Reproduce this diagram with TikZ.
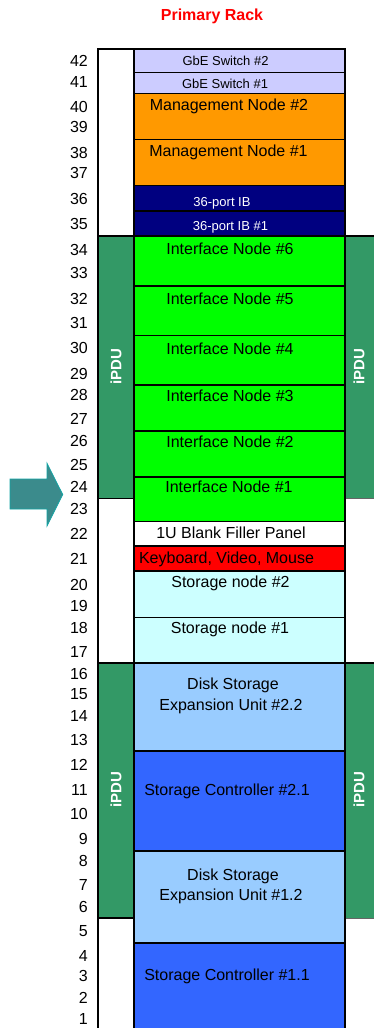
\documentclass[tikz,border=0pt]{standalone}
\usepackage{fontspec}
\setmainfont{Liberation Sans}
\definecolor{gbe}{HTML}{CCCCFF}
\definecolor{mgmt}{HTML}{FF9900}
\definecolor{ib}{HTML}{000080}
\definecolor{iface}{HTML}{00FF00}
\definecolor{kvm}{HTML}{FF0000}
\definecolor{stnode}{HTML}{CCFFFF}
\definecolor{dse}{HTML}{99CCFF}
\definecolor{ctrl}{HTML}{3366FF}
\definecolor{pdugreen}{HTML}{339966}
\definecolor{arrowfill}{HTML}{3B8B8C}
\definecolor{arrowedge}{HTML}{12A3A4}
\begin{document}
\begin{tikzpicture}[x=1pt,y=-1pt,
  bay/.style={rectangle, draw=black, line width=1.6pt, minimum width=211pt,
    inner sep=0pt, outer sep=0pt},
  lbl/.style={font=\fontsize{16}{19}\selectfont, anchor=base, inner sep=0pt},
  lblsmall/.style={font=\fontsize{13}{15}\selectfont, anchor=base, inner sep=0pt},
  unum/.style={font=\fontsize{16}{19}\selectfont, anchor=base east, inner sep=0pt},
  pdu/.style={fill=pdugreen, draw=black, line width=1.6pt},
  pdutext/.style={font=\bfseries\fontsize{15}{18}\selectfont, text=white,
    rotate=90, inner sep=0pt},
  titletext/.style={font=\bfseries\fontsize{16}{19}\selectfont, text=red,
    anchor=base, inner sep=0pt}]
\useasboundingbox (0,0) rectangle (373,1028);

% title
\node[titletext] (title) at (212,20) {Primary Rack};

% power distribution strips on both sides
\fill[pdugreen] (98,236) rectangle (134,498.5);
\draw[line width=1.6pt] (98,498.5) -- (135,498.5);
\fill[pdugreen] (345,236) rectangle (380,498.5);
\fill[pdugreen] (98,663) rectangle (134,918);
\draw[line width=1.6pt] (98,918) -- (135,918);
\fill[pdugreen] (345,663) rectangle (380,918);
\draw[line width=1.6pt] (345,236) -- (380,236);
\draw[line width=1.6pt] (345,663) -- (380,663);
\draw[line width=0.8pt, black!60] (345,498.5) -- (380,498.5);
\draw[line width=0.8pt, black!60] (345,918) -- (380,918);
\node[pdutext] (pduLA) at (116,367) {iPDU};
\node[pdutext] (pduRA) at (359,367) {iPDU};
\node[pdutext] (pduLB) at (116,790) {iPDU};
\node[pdutext] (pduRB) at (359,790) {iPDU};

% rack frame
\draw[line width=1.6pt] (98,1035) -- (98,49) -- (345,49);
\draw[line width=1.6pt] (98,236) -- (134,236);
\draw[line width=1.6pt] (98,663) -- (134,663);

% equipment bays: name / top / bottom / fill
\foreach \n/\t/\b/\c in {
  gbeB/49/72.5/gbe, gbeA/72.5/93.5/gbe,
  mgmtB/93.5/139.5/mgmt, mgmtA/139.5/185.5/mgmt,
  ibB/185.5/211/ib, ibA/211/236/ib,
  ifF/236/286/iface, ifE/286/335.5/iface, ifD/335.5/385/iface,
  ifC/385/431/iface, ifB/431/477/iface, ifA/477/521.5/iface,
  blank/521.5/546/white, kvm/546/571/kvm,
  stB/571/617.5/stnode, stA/617.5/663/stnode,
  dseB/663/751/dse, ctrlB/751/851/ctrl,
  dseA/851/943/dse, ctrlA/943/1035/ctrl}
  \node[bay, fill=\c, minimum height={\b-\t}] (\n) at (239.5,{(\t+\b)/2}) {};

% bay labels
\node[lblsmall] (tgbeB) at (225.5,65.5) {GbE Switch \#2};
\node[lblsmall] (tgbeA) at (225,88.5) {GbE Switch \#1};
\node[lbl] (tmgmtB) at (229,110.7) {Management Node \#2};
\node[lbl] (tmgmtA) at (228.5,156.7) {Management Node \#1};
\node[lblsmall, text=white] (tibB) at (222,206.5) {36-port IB};
\node[lblsmall, text=white] (tibA) at (230.5,230) {36-port IB \#1};
\node[lbl] (tifF) at (230,254.3) {Interface Node \#6};
\node[lbl] (tifE) at (230,304) {Interface Node \#5};
\node[lbl] (tifD) at (230,354) {Interface Node \#4};
\node[lbl] (tifC) at (230,401) {Interface Node \#3};
\node[lbl] (tifB) at (230,447) {Interface Node \#2};
\node[lbl] (tifA) at (229,492) {Interface Node \#1};
\node[lbl] (tblank) at (231,538) {1U Blank Filler Panel};
\node[lbl] (tkvm) at (226.5,563.3) {Keyboard, Video, Mouse};
\node[lbl] (tstB) at (230.5,587.7) {Storage node \#2};
\node[lbl] (tstA) at (230,633.7) {Storage node \#1};
\node[lbl] (tdseB1) at (233,689.7) {Disk Storage};
\node[lbl] (tdseB2) at (231,710.3) {Expansion Unit \#2.2};
\node[lbl] (tctrlB) at (227,795) {Storage Controller \#2.1};
\node[lbl] (tdseA1) at (233,880) {Disk Storage};
\node[lbl] (tdseA2) at (231,900.7) {Expansion Unit \#1.2};
\node[lbl] (tctrlA) at (227,980) {Storage Controller \#1.1};

% rack unit numbers
\foreach \u/\y in {42/66.4, 41/87.4, 40/112.4, 39/132.7, 38/158.7, 37/178.7,
  36/204.7, 35/229.7, 34/255.7, 33/278.7, 32/304.7, 31/328.7, 30/353.7,
  29/379.7, 28/400.7, 27/424.7, 26/446.7, 25/470.7, 24/492.7, 23/514.7,
  22/539.7, 21/564.7, 20/590.7, 19/611.7, 18/633.7, 17/657.7, 16/679.7,
  15/699.7, 14/721.7, 13/745.7, 12/770.7, 11/795.7, 10/819.7, 9/844.7,
  8/866.7, 7/890.7, 6/912.7, 5/936.7, 4/961.7, 3/981.7, 2/1003.7, 1/1024.7}
  \node[unum] (u\u) at (88,\y) {\u};

% pointer arrow
\draw[fill=arrowfill, draw=arrowedge, line width=0.8pt, line join=miter]
  (10,479) -- (47,479) -- (47,463.3) -- (62.7,494.5) -- (47,526)
  -- (47,509) -- (10,509) -- cycle;
\end{tikzpicture}
\end{document}
